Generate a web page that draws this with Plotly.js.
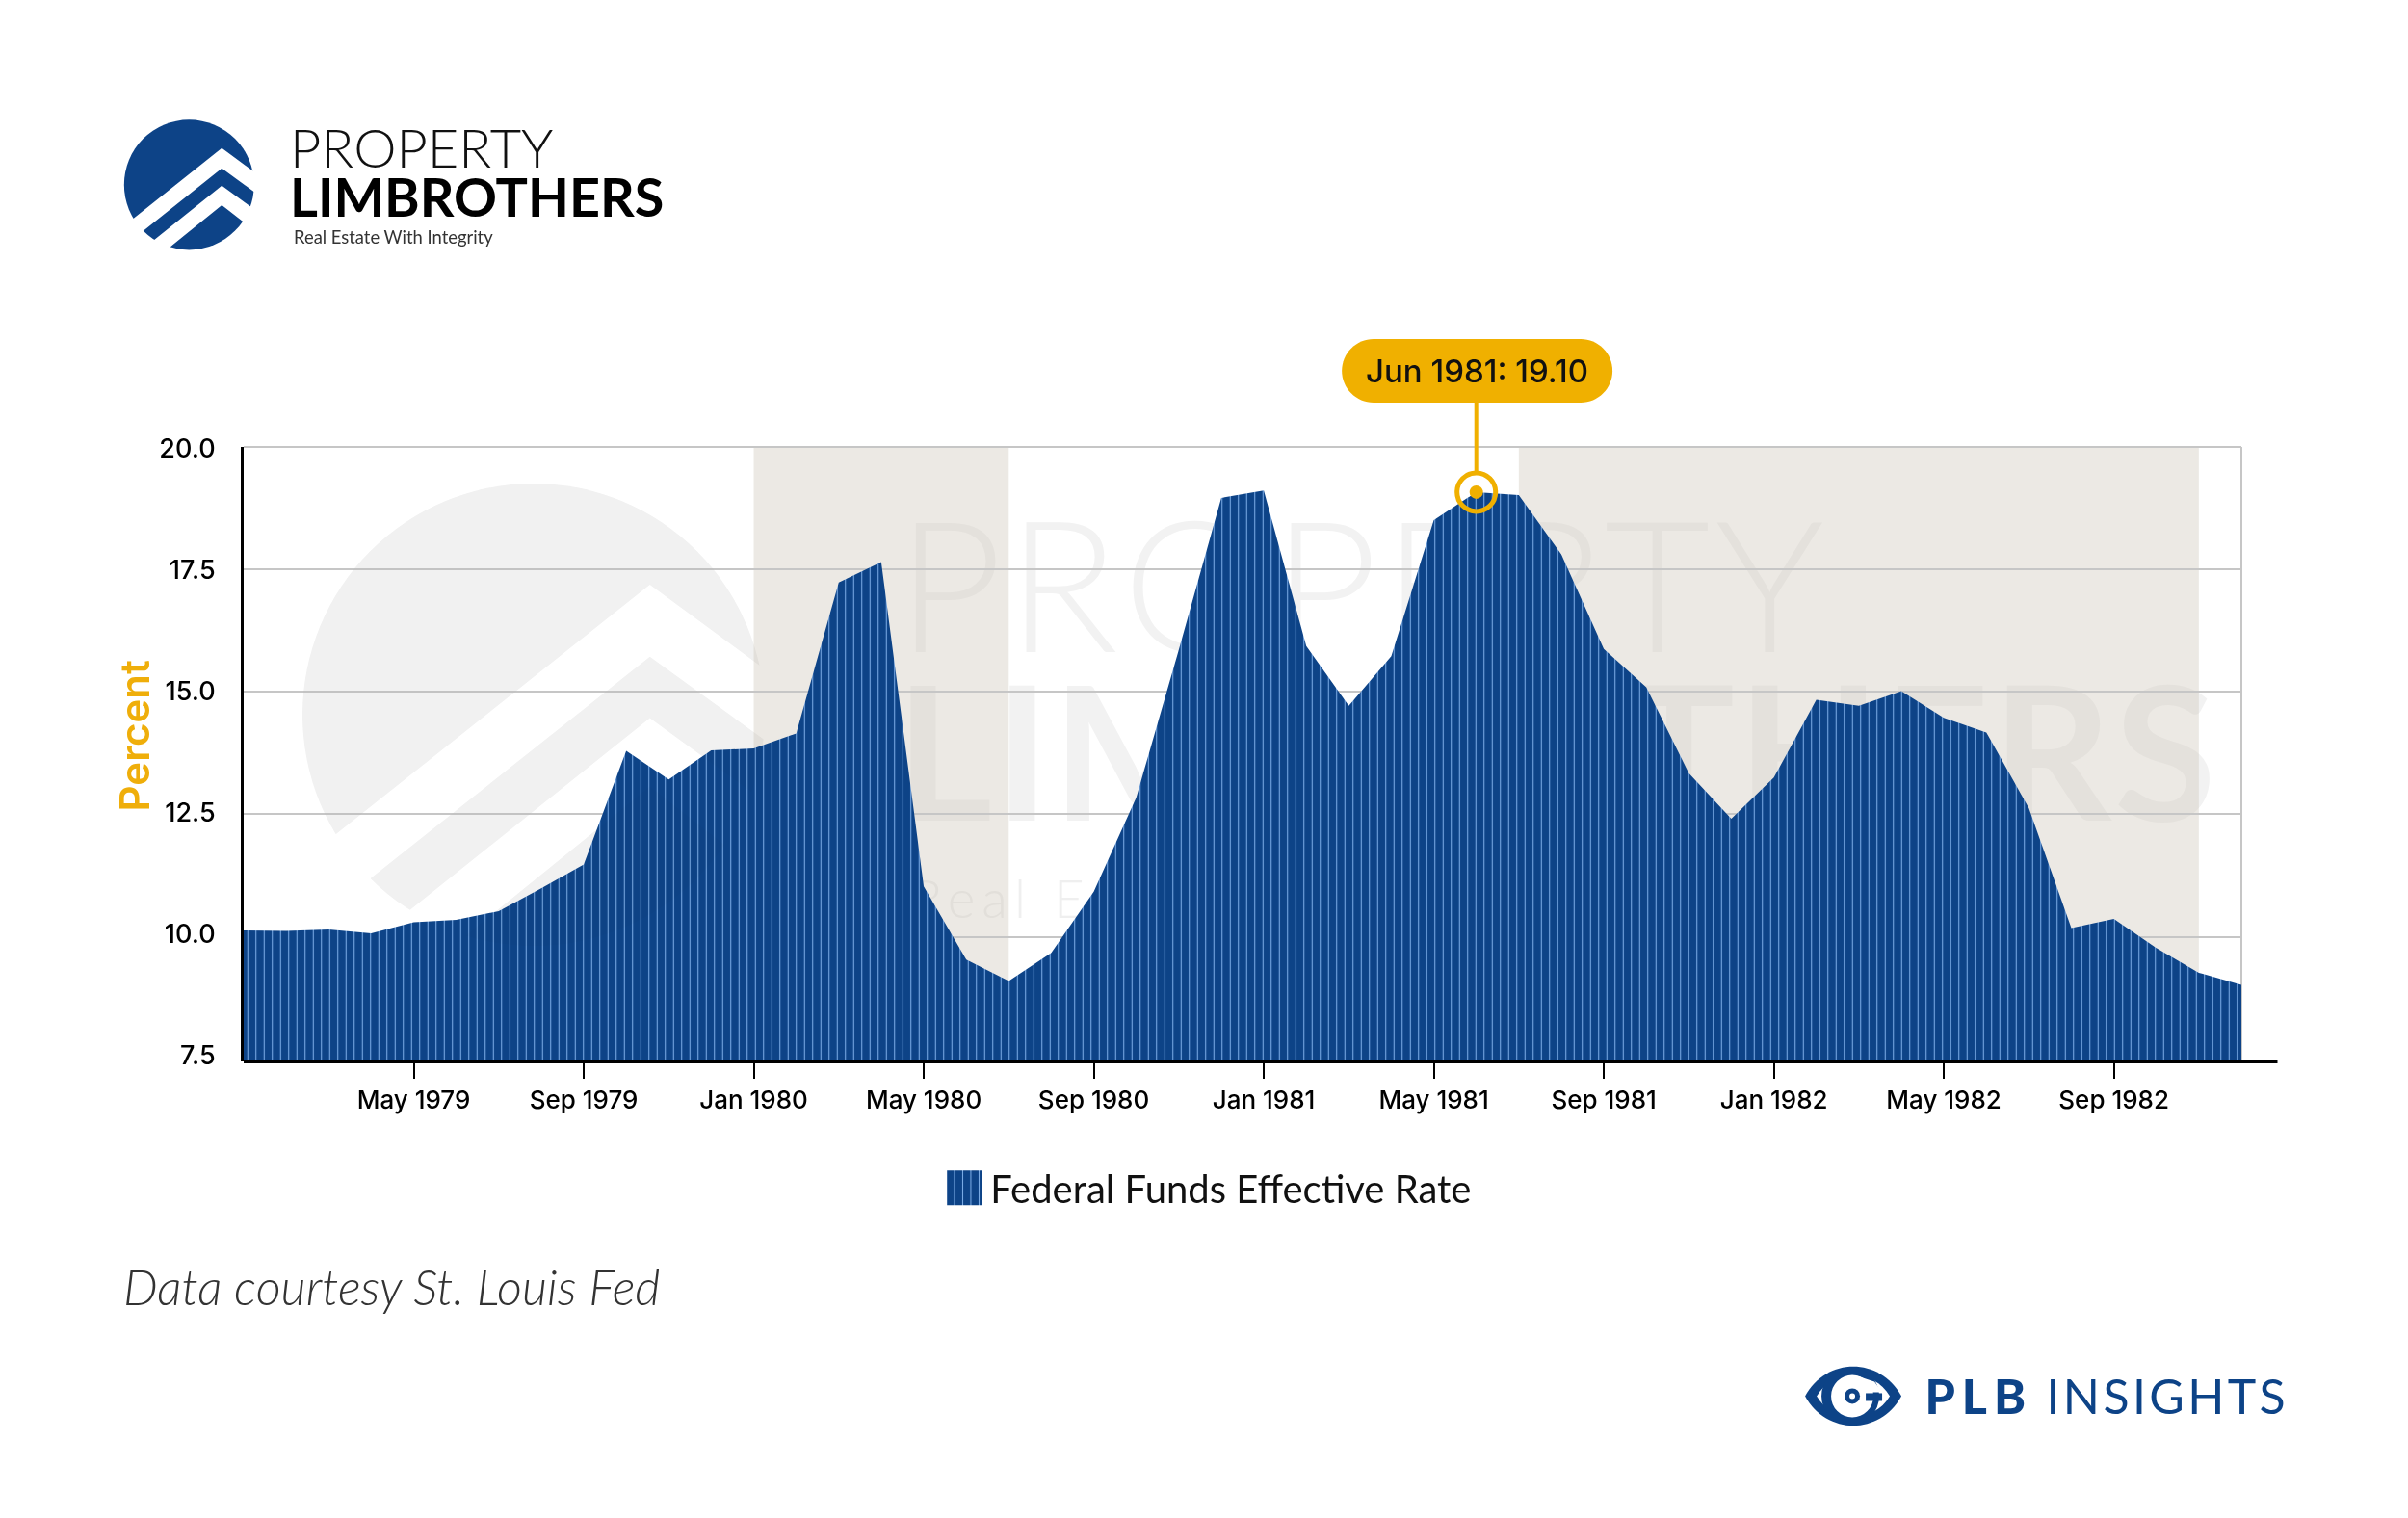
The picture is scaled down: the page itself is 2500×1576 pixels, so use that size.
<!DOCTYPE html>
<html><head><meta charset="utf-8">
<script src="https://cdn.plot.ly/plotly-3.0.1.min.js"></script>
<style>
html,body{margin:0;padding:0;background:#fff;width:2500px;height:1576px;overflow:hidden}
#wmUnder{position:absolute;left:0;top:0;width:2500px;height:1576px;z-index:0}
#wmOver{position:absolute;left:0;top:0;width:2500px;height:1576px;z-index:2;mix-blend-mode:multiply;pointer-events:none}
#chart{position:absolute;left:0;top:0;width:2500px;height:1576px;z-index:1}
</style></head><body>
<svg id="wmUnder" width="2500" height="1576" xmlns="http://www.w3.org/2000/svg"></svg>
<div id="chart"></div>
<svg id="wmOver" width="2500" height="1576" xmlns="http://www.w3.org/2000/svg" aria-hidden="true"></svg>
<script>
// ---- data ----
const months = ["Jan 1979","Feb 1979","Mar 1979","Apr 1979","May 1979","Jun 1979","Jul 1979","Aug 1979","Sep 1979","Oct 1979","Nov 1979","Dec 1979",
"Jan 1980","Feb 1980","Mar 1980","Apr 1980","May 1980","Jun 1980","Jul 1980","Aug 1980","Sep 1980","Oct 1980","Nov 1980","Dec 1980",
"Jan 1981","Feb 1981","Mar 1981","Apr 1981","May 1981","Jun 1981","Jul 1981","Aug 1981","Sep 1981","Oct 1981","Nov 1981","Dec 1981",
"Jan 1982","Feb 1982","Mar 1982","Apr 1982","May 1982","Jun 1982","Jul 1982","Aug 1982","Sep 1982","Oct 1982","Nov 1982","Dec 1982"];
const rate = [10.07,10.06,10.09,10.01,10.24,10.29,10.47,10.94,11.43,13.77,13.18,13.78,
13.82,14.13,17.24,17.66,10.98,9.47,9.03,9.61,10.87,12.81,15.85,18.98,
19.13,15.93,14.70,15.72,18.52,19.10,19.04,17.82,15.87,15.08,13.31,12.37,
13.22,14.82,14.70,15.00,14.45,14.15,12.59,10.12,10.31,9.71,9.20,8.95];
const xTicks = ["May 1979","Sep 1979","Jan 1980","May 1980","Sep 1980","Jan 1981","May 1981","Sep 1981","Jan 1982","May 1982","Sep 1982"];
const yTicks = [7.5,10,12.5,15,17.5,20];
const yTickText = ["7.5","10.0","12.5","15.0","17.5","20.0"];
const gridLevels = [9.94,12.47,15.0,17.52];
const recessions = [["Jan 1980","Jul 1980"],["Jul 1981","Nov 1982"]];
const seriesName = "Federal Funds Effective Rate";
const peakMonth = ["Jun 1981"];
const peakValue = [19.10];

// ---- layout constants (pixels) ----
const W=2500,H=1576,L=252.7,R=2327,T=464,B=1101.7;
const BLUE="#0d4387",GOLD="#f0b000",GRID="#c6c6c6",FONT="Inter, sans-serif",LAT="Lato, sans-serif";
const X=p=>(p-L)/(R-L), Y=p=>(B-p)/(B-T);
const poly=pts=>"M"+pts.map(q=>X(q[0])+","+Y(q[1])).join(" L")+" Z";
const paper={xref:"paper",yref:"paper"};
const circ=(cx,cy,r,fill,layer)=>({type:"circle",...paper,x0:X(cx-r),x1:X(cx+r),y0:Y(cy+r),y1:Y(cy-r),fillcolor:fill,line:{width:0},layer:layer||"above"});
const ann=(text,px,py,size,color,weight,anchor,extra)=>Object.assign({text,x:X(px),y:Y(py),...paper,xanchor:anchor||"left",yanchor:"middle",showarrow:false,
  font:{family:LAT,size,color,weight:weight||400}},extra||{});

// logo chevrons, shared by logo and watermark
const logoC=[196,192];
const chev1=[[230,154],[118,243],[128,256],[230,175],[285,215],[283,193]];
const chev2=[[230,193],[140,265],[156,273],[230,213],[280,252],[285,233]];

// watermark: mark and words behind the plot, a very faint mark multiplied over it
(function(){
  const s=3.55,cx=554,cy=742;
  const m=pts=>pts.map(q=>(cx+s*(q[0]-logoC[0]))+","+(cy+s*(q[1]-logoC[1]))).join(" ");
  const mark=f=>`<circle cx="${cx}" cy="${cy}" r="240" fill="${f}"/>
    <polygon points="${m(chev1)}" fill="#fff"/><polygon points="${m(chev2)}" fill="#fff"/>`;
  const t=(y,w,sz,ls,x,f,str)=>`<text x="${x}" y="${y}" font-family="Lato" font-weight="${w}" font-size="${sz}" letter-spacing="${ls}" fill="${f}">${str}</text>`;
  document.getElementById("wmOver").innerHTML=mark("#fbfbfb");
  document.getElementById("wmUnder").innerHTML=mark("#f5f5f5")+
    t(677,300,190,5,931,"#f2f2f2","PROPERTY")+t(852,700,193,2.5,930,"#f2f2f2","LIMBROTHERS")+t(953,300,55,7,945,"#efefef","Real Estate With Integrity");
})();

const shapes=[];
recessions.forEach(r=>shapes.push({type:"rect",xref:"x",yref:"paper",x0:r[0],x1:r[1],y0:0,y1:1,fillcolor:"rgba(207,200,188,0.4)",line:{width:0},layer:"below"}));
// top and right border, bottom axis extension, callout stem
shapes.push({type:"line",...paper,x0:1,x1:1,y0:0,y1:1,line:{color:GRID,width:2},layer:"below"});
shapes.push({type:"line",...paper,x0:0,x1:1,y0:1,y1:1,line:{color:GRID,width:2},layer:"above"});
shapes.push({type:"line",...paper,x0:0,x1:X(2364.5),y0:0,y1:0,line:{color:"#000",width:4},layer:"above"});
shapes.push({type:"line",xref:"x",yref:"paper",x0:peakMonth[0],x1:peakMonth[0],y0:Y(418),y1:Y(490),line:{color:GOLD,width:4},layer:"above"});
// callout pill
(function(){const l=1393,r=1674,t=352,b=418,c=33,k=c*0.45;const P=(x,y)=>X(x)+","+Y(y);
 shapes.push({type:"path",...paper,fillcolor:GOLD,line:{width:0},layer:"above",
 path:`M${P(l+c,t)} L${P(r-c,t)} C${P(r-c+c-k,t)} ${P(r,t+k)} ${P(r,t+c)} C${P(r,b-k)} ${P(r-k,b)} ${P(r-c,b)} L${P(l+c,b)} C${P(l+k,b)} ${P(l,b-k)} ${P(l,t+c)} C${P(l,t+k)} ${P(l+k,t)} ${P(l+c,t)} Z`});})();
// top-left logo
shapes.push(circ(logoC[0],logoC[1],67.5,BLUE));
[chev1,chev2].forEach(c=>shapes.push({type:"path",...paper,path:poly(c),fillcolor:"#fff",line:{width:0},layer:"above"}));
// eye icon
(function(){const cx=1924,cy=1449,P=(x,y)=>X(cx+x)+","+Y(cy+y);
 const lens=(a,b)=>`M${P(-a,0)} C${P(-a*0.55,-b*1.02)} ${P(a*0.55,-b*1.02)} ${P(a,0)} C${P(a*0.55,b*1.02)} ${P(-a*0.55,b*1.02)} ${P(-a,0)} Z`;
 shapes.push({type:"path",...paper,path:lens(50,40),fillcolor:BLUE,line:{width:0},layer:"above"});
 shapes.push({type:"path",...paper,path:lens(38,28),fillcolor:"#fff",line:{width:0},layer:"above"});
 shapes.push(circ(cx-3,cy,30,BLUE));
 shapes.push(circ(cx-1,cy,22,"#fff"));
 shapes.push(circ(cx-1,cy,8,BLUE));
 shapes.push(circ(cx-1,cy,3,"#fff"));
 shapes.push({type:"path",...paper,path:poly([[cx+4,cy-21],[cx+22,cy-15],[cx+30,cy-4],[cx+10,cy-4]]),fillcolor:"#fff",line:{width:0},layer:"above"});
 shapes.push({type:"rect",...paper,x0:X(cx+13),x1:X(cx+30),y0:Y(cy+5),y1:Y(cy-3),fillcolor:BLUE,line:{width:0},layer:"above"});
})();

const annotations=[
 ann("PROPERTY",299,153,56,"#111",300),
 ann("LIMBROTHERS",299,204,55.7,"#000",700),
 ann("Real Estate With Integrity",303,246,18.4,"#333",400),
 ann(peakMonth[0]+": "+peakValue[0].toFixed(2),1533.5,385,33,"#111",500,"center",{font:{family:FONT,size:33,color:"#111",weight:500}}),
 ann("Data courtesy St. Louis Fed",126,1335,50.5,"#333",300,"left",{font:{family:LAT,size:50.5,color:"#333",weight:300,style:"italic"}}),
 ann("PLB",2007,1449,50,BLUE,900),
 ann("INSIGHTS",2136,1449,50,BLUE,400),
 ann("Percent",139,764,42,"#efae0a",600,"center",{textangle:-90,font:{family:FONT,size:42,color:"#efae0a",weight:600}}),
];

const traces=[
 {x:months,y:rate,name:seriesName,type:"scatter",mode:"lines",fill:"tozeroy",line:{color:BLUE,width:0},
  fillcolor:BLUE,fillpattern:{shape:"|",bgcolor:BLUE,fgcolor:"#7fb0ea",size:8.5,solidity:0.12,fillmode:"replace"},hoverinfo:"x+y"},
 {x:peakMonth,y:peakValue,type:"scatter",mode:"markers",marker:{size:40,color:"rgba(0,0,0,0)",line:{color:GOLD,width:5}},showlegend:false,hoverinfo:"skip"},
 {x:peakMonth,y:peakValue,type:"scatter",mode:"markers",marker:{size:14,color:GOLD},showlegend:false,hoverinfo:"skip"},
];

const layout={width:W,height:H,paper_bgcolor:"rgba(0,0,0,0)",plot_bgcolor:"rgba(0,0,0,0)",
 margin:{l:L,r:W-R,t:T,b:H-B,pad:0},
 xaxis:{type:"category",categoryorder:"array",categoryarray:months,range:[0,47],tickmode:"array",tickvals:xTicks,ticktext:xTicks,
  ticks:"outside",ticklen:17,tickwidth:2,tickcolor:"#000",showgrid:false,zeroline:false,showline:false,
  tickfont:{family:FONT,size:26,color:"#000",weight:500},tickangle:0,automargin:false},
 yaxis:{range:[7.373,20.03],tickmode:"array",tickvals:yTicks,ticktext:yTickText,ticks:"",ticklabelstandoff:21,
  tickfont:{family:FONT,size:27,color:"#000",weight:500},showgrid:false,zeroline:false,
  minor:{tickmode:"array",tickvals:gridLevels,showgrid:true,gridcolor:GRID,gridwidth:2,ticks:""},
  showline:true,linecolor:"#000",linewidth:3,automargin:false},
 legend:{orientation:"h",x:X(978),xanchor:"left",y:Y(1233),yanchor:"middle",bgcolor:"rgba(0,0,0,0)",itemwidth:40,itemclick:false,itemdoubleclick:false,
  font:{family:LAT,size:40,color:"#111",weight:400}},
 showlegend:true,shapes,annotations,hovermode:"closest"};

Plotly.newPlot("chart",traces,layout,{displayModeBar:false,responsive:false}).then(()=>{
  document.querySelectorAll(".legendfill path").forEach(p=>p.setAttribute("d","M5,-18h36v36h-36z"));
  document.querySelectorAll(".annotation-text").forEach(t=>{ if(t.textContent==="PLB") t.style.letterSpacing="7px"; if(t.textContent==="INSIGHTS") t.style.letterSpacing="3.4px"; });
});
</script></body></html>
